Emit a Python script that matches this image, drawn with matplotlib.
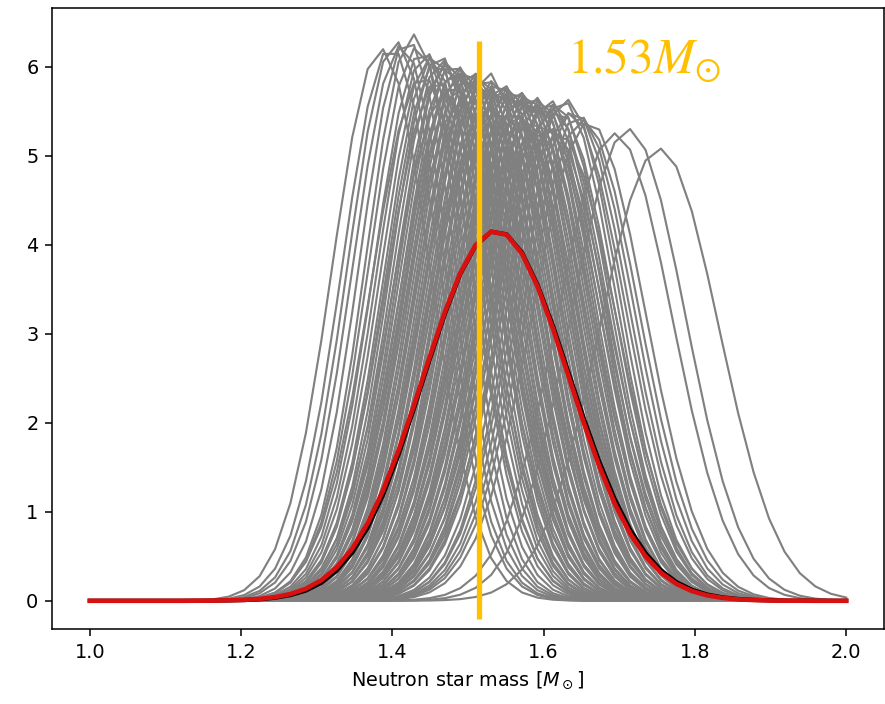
import numpy as np
import matplotlib
matplotlib.use("Agg")
import matplotlib.pyplot as plt

# ---- data ----
mass_grid = np.linspace(1.0, 2.0, 50)

# individual posterior curves: centre mass and peak density
gray_centers = [1.385, 1.398, 1.405, 1.412, 1.420, 1.428, 1.433, 1.440, 1.445, 1.450,
                1.455, 1.458, 1.462, 1.466, 1.470, 1.473, 1.476, 1.480, 1.483, 1.486,
                1.489, 1.492, 1.495, 1.498, 1.501, 1.504, 1.507, 1.510, 1.512, 1.515,
                1.518, 1.521, 1.524, 1.527, 1.530, 1.533, 1.536, 1.539, 1.542, 1.545,
                1.548, 1.551, 1.554, 1.557, 1.560, 1.563, 1.566, 1.569, 1.572, 1.575,
                1.578, 1.581, 1.584, 1.587, 1.590, 1.593, 1.596, 1.600, 1.604, 1.608,
                1.612, 1.616, 1.620, 1.625, 1.630, 1.635, 1.640, 1.646, 1.652, 1.660,
                1.694, 1.712, 1.753,
                1.440, 1.460, 1.470, 1.480, 1.490, 1.500, 1.510, 1.520, 1.530, 1.540,
                1.550, 1.560, 1.570, 1.580, 1.590, 1.600, 1.610, 1.620, 1.485, 1.525,
                1.565, 1.605]
gray_peaks = [6.20, 6.22, 6.28, 6.24, 6.30, 6.36, 6.22, 6.18, 6.15, 6.10,
              6.12, 6.05, 6.13, 6.08, 6.02, 6.06, 5.98, 6.04, 5.95, 6.00,
              5.92, 5.98, 5.90, 5.96, 5.88, 5.94, 5.85, 5.92, 5.82, 5.90,
              5.80, 5.88, 5.78, 5.93, 5.76, 5.84, 5.74, 5.82, 5.72, 5.80,
              5.78, 5.70, 5.76, 5.68, 5.74, 5.66, 5.72, 5.64, 5.70, 5.62,
              5.68, 5.60, 5.66, 5.58, 5.65, 5.56, 5.62, 5.55, 5.60, 5.62,
              5.52, 5.58, 5.50, 5.62, 5.63, 5.48, 5.50, 5.45, 5.40, 5.38,
              5.25, 5.30, 5.08,
              5.90, 5.85, 5.70, 5.80, 5.60, 5.65, 5.60, 5.50, 5.55, 5.50,
              5.45, 5.50, 5.40, 5.40, 5.30, 5.35, 5.30, 5.25, 5.75, 5.55,
              5.45, 5.30]

# averaged curve (black) and its normal fit (red), sampled on mass_grid
mean_curve = [0.000, 0.000, 0.000, 0.000, 0.000, 0.000, 0.000, 0.001, 0.001, 0.004,
              0.008, 0.017, 0.034, 0.064, 0.115, 0.202, 0.340, 0.540, 0.820, 1.190,
              1.640, 2.160, 2.700, 3.220, 3.670, 3.990, 4.145, 4.115, 3.910, 3.550,
              3.090, 2.570, 2.050, 1.565, 1.145, 0.800, 0.535, 0.342, 0.210, 0.124,
              0.070, 0.038, 0.020, 0.010, 0.005, 0.002, 0.001, 0.000, 0.000, 0.000]
fit_curve = [0.000, 0.000, 0.000, 0.000, 0.000, 0.000, 0.000, 0.001, 0.002, 0.005,
             0.010, 0.021, 0.041, 0.076, 0.135, 0.231, 0.376, 0.585, 0.871, 1.241,
             1.689, 2.197, 2.730, 3.242, 3.681, 3.997, 4.146, 4.111, 3.897, 3.531,
             3.058, 2.528, 2.000, 1.512, 1.093, 0.755, 0.499, 0.315, 0.190, 0.109,
             0.060, 0.032, 0.016, 0.008, 0.003, 0.001, 0.001, 0.000, 0.000, 0.000]

marker_mass = 1.514
marker_label = r"$1.53M_{\odot}$"

# ---- figure ----
DPI = 139
fig = plt.figure(figsize=(885 / DPI, 704 / DPI), dpi=DPI)
ax = fig.add_axes([52 / 885, 1 - 629 / 704, 832 / 885, 621 / 704])

SQ2PI = np.sqrt(2 * np.pi)
for c, p in zip(gray_centers, gray_peaks):
    s = 1.0 / (p * SQ2PI)
    y = p * np.exp(-0.5 * ((mass_grid - c) / s) ** 2)
    ax.plot(mass_grid, y, color="gray", lw=1.1)

ax.plot(mass_grid, mean_curve, color="black", lw=2.2)
ax.plot(mass_grid, fit_curve, color="#d81010", lw=2.4)

ax.plot([marker_mass, marker_mass], [-0.21, 6.29], color="#FFC000", lw=2.75,
        solid_capstyle="butt", zorder=5)
ax.text(0.619, 0.895, marker_label, transform=ax.transAxes, color="#FFC000",
        fontsize=25.5, ha="left", va="baseline", math_fontfamily="stix")

ax.set_xlim(0.95, 2.05)
ax.set_ylim(-0.317, 6.657)
ax.set_xticks([1.0, 1.2, 1.4, 1.6, 1.8, 2.0])
ax.set_yticks([0, 1, 2, 3, 4, 5, 6])
ax.set_xlabel(r"Neutron star mass [$M_\odot$]")

fig.savefig("out.png", dpi=DPI)
